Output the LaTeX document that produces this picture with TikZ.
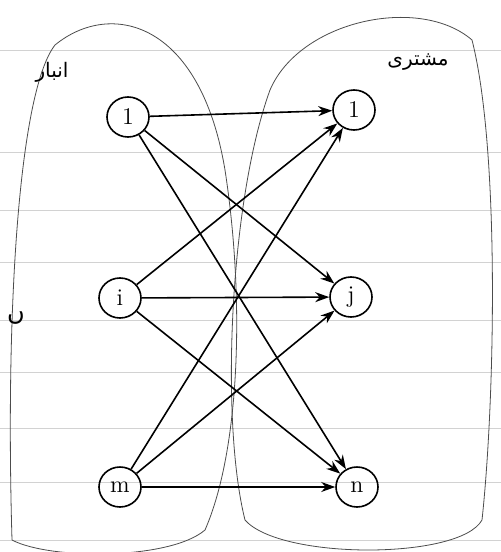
\documentclass[tikz,border=0pt]{standalone}
\usepackage{fontspec}
\newfontfamily\arabicfont[Script=Arabic]{DejaVu Sans}
\TeXXeTstate=1
\usetikzlibrary{arrows.meta,shapes.geometric}
\begin{document}
\begin{tikzpicture}[x=0.5pt,y=-0.5pt,
  vtx/.style={draw,thick,ellipse,minimum width=21pt,minimum height=20pt,inner sep=0pt,font=\large},
  arc/.style={thick,-{Stealth[length=7pt,width=5pt]}},
  setline/.style={thin,black!70},
  paper/.style={gray!35,thin}]
\useasboundingbox (0,0) rectangle (501,552);
\fill[white] (0,0) rectangle (501,552);
% ruled paper lines
\foreach \yy in {50,152,210,262,320,372,428,482,540}
  \draw[paper] (0,\yy) -- (501,\yy);
% sets
\draw[setline] (12,540) .. controls (5,300) and (20,90) .. (55,45)
  .. controls (110,0) and (200,20) .. (225,170)
  .. controls (245,300) and (240,450) .. (205,530)
  .. controls (170,560) and (50,560) .. (12,540);
\draw[setline] (245,520) .. controls (220,420) and (230,200) .. (270,90)
  .. controls (300,20) and (420,-5) .. (472,40)
  .. controls (500,150) and (495,400) .. (482,520)
  .. controls (460,560) and (280,560) .. (245,520);
% labels
\node[font=\arabicfont] (la) at (52,72) {\beginR انبار\endR};
\node[font=\arabicfont] (lb) at (418,62) {\beginR مشتری\endR};
\node[font=\arabicfont\large] (lc) at (16,318) {\beginR ں\endR};
% nodes
\node[vtx] (a1) at (128,117) {1};
\node[vtx] (ai) at (120,298) {i};
\node[vtx] (am) at (120,487) {m};
\node[vtx] (b1) at (354,110) {1};
\node[vtx] (bj) at (351,297) {j};
\node[vtx] (bn) at (357,487) {n};
% arcs
\foreach \s in {a1,ai,am}
  \foreach \t in {b1,bj,bn}
    \draw[arc] (\s) -- (\t);
\end{tikzpicture}
\end{document}
